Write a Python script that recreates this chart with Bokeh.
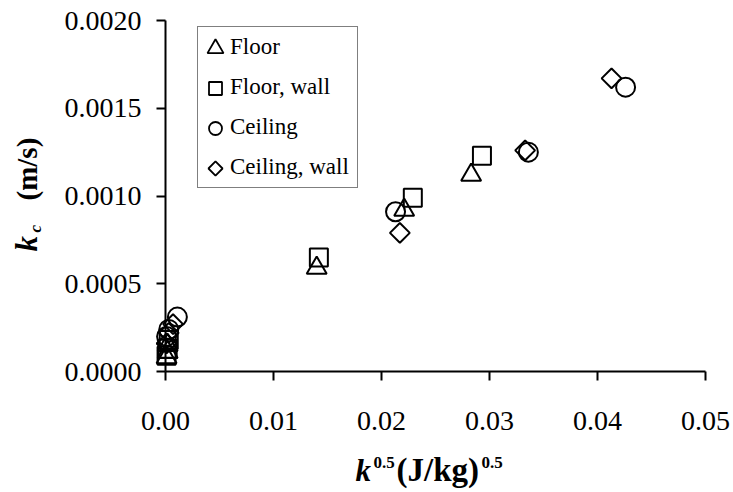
import numpy as np
from bokeh.plotting import figure
from bokeh.models import (Range1d, FixedTicker, PrintfTickFormatter, Legend,
                          LegendItem)
from bokeh.core.properties import value
from bokeh.embed import file_html
from bokeh.resources import INLINE

# k^0.5 in (J/kg)^0.5 and k_c in m/s for each surface configuration
floor_x = [0.0001, 0.0002, 0.0002, 0.0140, 0.0221, 0.0283]
floor_y = [0.00008, 0.00011, 0.00015, 0.00059, 0.00092, 0.00112]

floor_wall_x = [0.0001, 0.0002, 0.0003, 0.0142, 0.0229, 0.0293]
floor_wall_y = [0.00009, 0.00013, 0.00018, 0.00065, 0.00099, 0.00123]

ceiling_x = [0.0001, 0.0003, 0.0011, 0.0213, 0.0336, 0.0426]
ceiling_y = [0.00020, 0.00024, 0.00031, 0.00091, 0.00125, 0.00162]

ceiling_wall_x = [0.0001, 0.0003, 0.0007, 0.0217, 0.0333, 0.0413]
ceiling_wall_y = [0.00016, 0.00022, 0.00027, 0.00079, 0.00126, 0.00167]

series_names = ["Floor", "Floor, wall", "Ceiling", "Ceiling, wall"]
x_ticks = [0.00, 0.01, 0.02, 0.03, 0.04, 0.05]
y_ticks = [0.0000, 0.0005, 0.0010, 0.0015, 0.0020]

W, H = 733, 492
FL, FT, FR, FB = 165, 20, 28, 121      # borders around the frame
FRAME_W = W - FL - FR
FRAME_H = H - FT - FB
FRAME_BOTTOM = H - FB

SERIF = "Liberation Serif"

p = figure(width=W, height=H, output_backend="svg", toolbar_location=None,
           x_range=Range1d(0, 0.05), y_range=Range1d(0, 0.002),
           # pixel space of the frame, used for legend keys and axis titles
           extra_x_ranges={"px": Range1d(0, FRAME_W)},
           extra_y_ranges={"px": Range1d(0, FRAME_H)},
           min_border_left=FL, min_border_right=FR,
           min_border_top=FT, min_border_bottom=FB)
p.grid.visible = False
p.outline_line_color = None
p.background_fill_color = "white"
p.border_fill_color = "white"

p.xaxis.ticker = FixedTicker(ticks=x_ticks, minor_ticks=[])
p.yaxis.ticker = FixedTicker(ticks=y_ticks, minor_ticks=[])
p.xaxis.formatter = PrintfTickFormatter(format="%.2f")
p.yaxis.formatter = PrintfTickFormatter(format="%.4f")
for ax in (p.xaxis, p.yaxis):
    ax.axis_line_color = "black"
    ax.axis_line_width = 2
    ax.major_tick_line_color = "black"
    ax.major_tick_line_width = 2
    ax.major_tick_in = 0
    ax.major_tick_out = 9
    ax.minor_tick_in = 0
    ax.minor_tick_out = 0
    ax.major_label_text_font = SERIF
    ax.major_label_text_font_size = "28px"
    ax.major_label_text_color = "black"
p.xaxis.major_label_standoff = 31
p.yaxis.major_label_standoff = 15

# series markers, drawn on the overlay level so the ones at the origin can
# spill over the axes
style = dict(fill_color=None, line_color="black", line_width=2, level="overlay")
p.scatter(floor_x, floor_y, marker="triangle", size=20, **style)
p.scatter(floor_wall_x, floor_wall_y, marker="square", size=18, **style)
p.scatter(ceiling_x, ceiling_y, marker="circle", size=19, **style)
p.scatter(ceiling_wall_x, ceiling_wall_y, marker="square", angle=np.pi / 4,
          size=14, **style)

# legend: Bokeh draws the box and labels, the keys are drawn separately so
# the rotated square keeps its angle
LEG_LEFT, LEG_TOP, ROW, GLYPH_W = 197, 28, 40, 32
hidden = dict(line_alpha=0, fill_alpha=0)
dummies = [p.scatter([], [], marker="circle", **hidden) for _ in series_names]
legend = Legend(
    items=[LegendItem(label=n, renderers=[r]) for n, r in zip(series_names, dummies)],
    location=(LEG_LEFT - FL, FRAME_BOTTOM - (LEG_TOP + ROW * len(series_names))),
    orientation="vertical", padding=0, margin=0, spacing=0,
    glyph_width=GLYPH_W, glyph_height=ROW, label_height=ROW, label_width=127,
    label_standoff=0,
    label_text_font=SERIF, label_text_font_size="23px", label_text_color="black",
    label_text_baseline="middle",
    border_line_color="black", border_line_width=1.5,
    background_fill_alpha=0.0,
)
p.add_layout(legend, "center")

key_x = [LEG_LEFT - FL + 18] * 4
key_y = [FRAME_BOTTOM - (LEG_TOP + ROW * i + ROW / 2) for i in range(4)]
key_style = dict(fill_color=None, line_color="black", line_width=1.8,
                 level="overlay", x_range_name="px", y_range_name="px")
p.scatter(key_x[0:1], key_y[0:1], marker="triangle", size=16, **key_style)
p.scatter(key_x[1:2], key_y[1:2], marker="square", size=13, **key_style)
p.scatter(key_x[2:3], key_y[2:3], marker="circle", size=13, **key_style)
p.scatter(key_x[3:4], key_y[3:4], marker="square", angle=np.pi / 4, size=10,
          **key_style)


def put_text(text, cx, cy, size, style="bold", rotated=False):
    """Write a text piece whose baseline starts at canvas position (cx, cy)."""
    lift = 0.33 * size          # the glyph's baseline sits a little low
    if rotated:
        x, y, angle = cx - lift - FL, FRAME_BOTTOM - cy, np.pi / 2
    else:
        x, y, angle = cx - FL, FRAME_BOTTOM - (cy - lift), 0.0
    p.text(x=[x], y=[y], text=[text],
           text_font=value(SERIF), text_font_size=value(f"{size}px"),
           text_font_style=style, text_color="black",
           text_align="left", text_baseline="alphabetic", angle=angle,
           x_range_name="px", y_range_name="px", level="overlay")


TITLE, SUP = 31, 17

# x axis title: k^0.5 (J/kg)^0.5
put_text("k", 355, 480, TITLE, "bold italic")
put_text("0.5", 373, 468, SUP)
put_text("(J/kg)", 396, 480, 33)
put_text("0.5", 481, 468, SUP)

# y axis title: k_c (m/s), rotated
put_text("k", 36, 251, TITLE, "bold italic", rotated=True)
put_text("c", 41, 232, SUP, "bold italic", rotated=True)
put_text("(m/s)", 36, 200, 29, "bold", rotated=True)

open("out.html", "w").write(file_html(p, INLINE))
